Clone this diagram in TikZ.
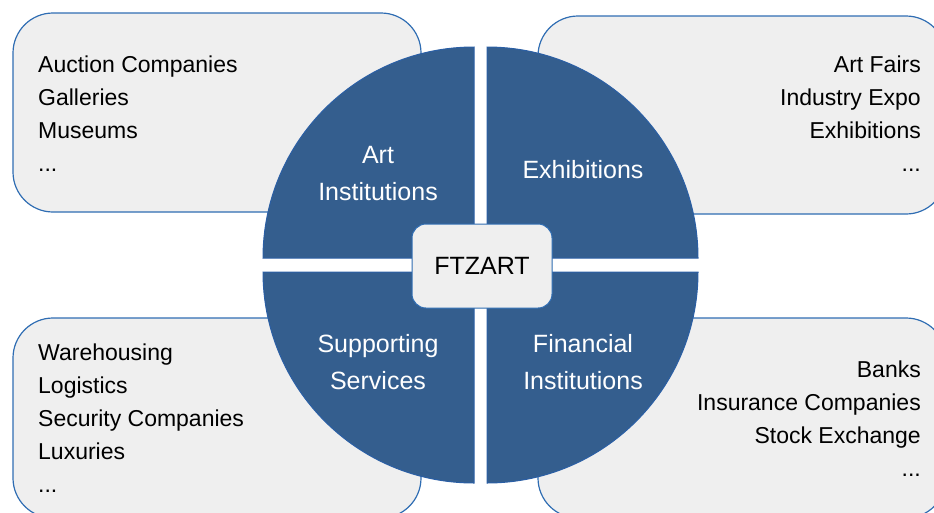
\documentclass[tikz,border=0pt]{standalone}
\usepackage{fontspec}
\setmainfont{Liberation Sans}
\definecolor{panelfill}{HTML}{EFEFEF}
\definecolor{panelline}{HTML}{2F6DB3}
\definecolor{quadfill}{HTML}{345E8E}
\definecolor{quadline}{HTML}{2B5FA5}
\begin{document}
\begin{tikzpicture}[x=1pt,y=-1pt,
  infobox/.style={fill=panelfill,draw=panelline,line width=1.2pt,rounded corners=40pt},
  quadrant/.style={fill=quadfill,draw=quadline,line width=1pt},
  listtext/.style={inner sep=0pt,font=\fontsize{23}{33}\selectfont,text=black},
  quadtext/.style={inner sep=0pt,align=center,font=\fontsize{25}{37}\selectfont,text=white},
  hubbox/.style={fill=panelfill,draw=panelline,line width=1pt,rounded corners=14pt,
    minimum width=140pt,minimum height=84pt,inner sep=0pt,font=\fontsize{25}{30}\selectfont}]
\useasboundingbox (0,0) rectangle (934,512);
\begin{scope}
\clip (0,0) rectangle (934,512);
% outer panels
\draw[infobox] (13,13) rectangle (421,212);
\draw[infobox] (538,16) rectangle (946,214);
\draw[infobox] (13,318) rectangle (421,518);
\draw[infobox] (538,318) rectangle (946,518);
\end{scope}

% panel lists
\node[listtext,align=left,anchor=north west] (artlist) at (38,55.5)
  {Auction Companies\\Galleries\\Museums\\...};
\node[listtext,align=right,anchor=north east] (exholist) at (921,55.5)
  {Art Fairs\\Industry Expo\\Exhibitions\\...};
\node[listtext,align=left,anchor=north west] (supplist) at (38,343.5)
  {Warehousing\\Logistics\\Security Companies\\Luxuries\\...};
\node[listtext,align=right,anchor=north east] (finlist) at (921,360.5)
  {Banks\\Insurance Companies\\Stock Exchange\\...};

% four quarter discs
\draw[quadrant] (474,258) -- (263,258) arc[start angle=180,end angle=270,radius=211] -- cycle;
\draw[quadrant] (487,258) -- (487,47) arc[start angle=270,end angle=360,radius=211] -- cycle;
\draw[quadrant] (487,272) -- (698,272) arc[start angle=0,end angle=90,radius=211] -- cycle;
\draw[quadrant] (474,272) -- (474,483) arc[start angle=90,end angle=180,radius=211] -- cycle;

% quadrant labels
\node[quadtext,anchor=north] (artq) at (378,146.5) {Art\\Institutions};
\node[quadtext,anchor=base] (exhq) at (583,178) {Exhibitions};
\node[quadtext,anchor=north] (suppq) at (378,334.5) {Supporting\\Services};
\node[quadtext,anchor=north] (finq) at (583,334.5) {Financial\\Institutions};

% central hub
\node[hubbox] (hub) at (482,266) {FTZART};
\end{tikzpicture}
\end{document}
